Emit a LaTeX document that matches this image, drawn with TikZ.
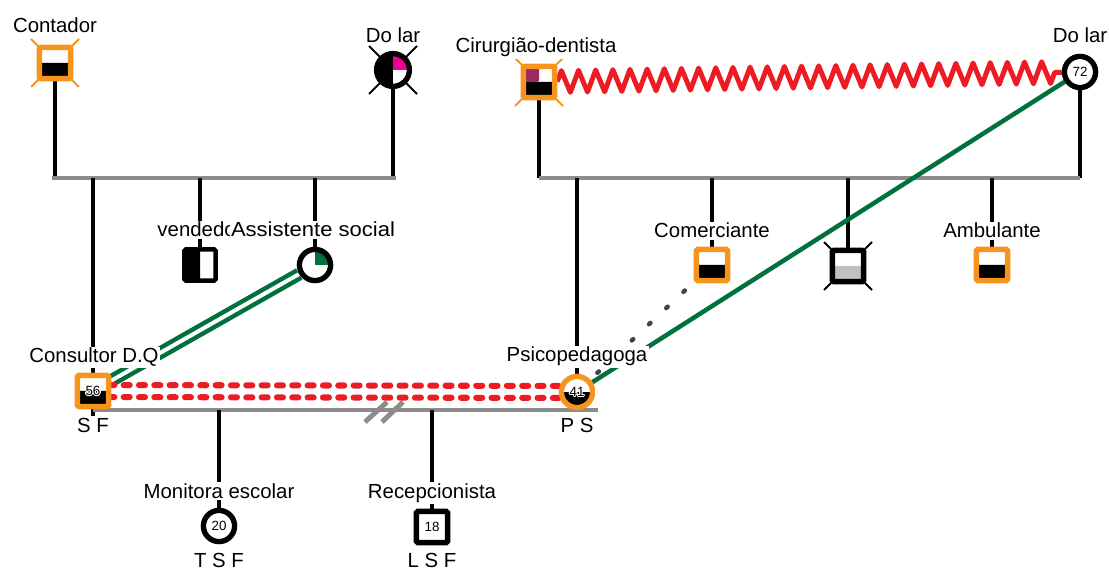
\documentclass[tikz,border=0pt]{standalone}
\usepackage{fontspec}
\setmainfont{Liberation Sans}
\usepackage{contour}
\contourlength{0.7pt}
\usetikzlibrary{decorations.pathmorphing}

\definecolor{gorange}{RGB}{247,148,29}
\definecolor{ggreen}{RGB}{0,112,60}
\definecolor{gred}{RGB}{237,28,36}
\definecolor{gmagenta}{RGB}{236,0,140}
\definecolor{gmaroon}{RGB}{155,42,95}
\definecolor{ggray}{RGB}{140,140,140}
\definecolor{glight}{RGB}{192,192,192}
\definecolor{gdots}{RGB}{68,68,68}

\pgfdeclarelayer{bg}
\pgfsetlayers{bg,main}

\tikzset{
  person/.style={fill=white, draw=black, line width=3.8pt, minimum size=0.78cm,
    inner sep=0pt, font=\fontsize{9.5}{10}\selectfont},
  male/.style={person, rectangle, rounded corners=1pt},
  female/.style={person, circle},
  lowhalf/.style={path picture={\fill[#1] (path picture bounding box.west)
    rectangle (path picture bounding box.south east);}},
  lefthalf/.style={path picture={\fill[#1] (path picture bounding box.south west)
    rectangle (path picture bounding box.north);}},
  nequad/.style={path picture={\fill[#1] (path picture bounding box.center)
    rectangle (path picture bounding box.north east);}},
  lbl/.style={anchor=base, fill=white, inner sep=1pt, font=\fontsize{14.5}{17}\selectfont},
  sub/.style={anchor=base, inner sep=0pt, font=\fontsize{14.5}{17}\selectfont},
  kid/.style={draw=black, line width=3.2pt},
  marr/.style={draw=ggray, line width=3.5pt},
  xl/.style={line width=1.4pt},
  zz/.style={draw=gred, line width=3.5pt, line join=round, decorate,
    decoration={zigzag, segment length=12.2pt, amplitude=7.8pt}},
  gline/.style={draw=ggreen, line width=3.2pt},
  gdouble/.style={draw=ggreen, line width=3.2pt, double=white, double distance=2.8pt},
  rdash/.style={draw=gred, line width=4.3pt, line cap=round, dash pattern=on 4.3pt off 6.6pt},
  dotl/.style={draw=gdots, line width=3.2pt, line cap=round,
    dash pattern=on 1.4pt off 15.4pt, dash phase=13.7pt, shorten >=0.9cm}
}

\begin{document}
\begin{tikzpicture}[x=0.025cm, y=-0.025cm]
  \useasboundingbox (0,0) rectangle (1109,569);

  \coordinate (lm) at (0,178);
  \coordinate (lm2) at (0,410);
  \coordinate (mend) at (598,410);

  \node[male, draw=gorange, lowhalf=black] (ctd) at (55,63) {};
  \node[female, minimum size=0.82cm, path picture={
      \fill[black] (path picture bounding box.south west) rectangle (path picture bounding box.north);
      \fill[gmagenta] (path picture bounding box.center) rectangle (path picture bounding box.north east);}]
    (dl1) at (393,70) {};
  \node[male, draw=gorange, path picture={
      \fill[black] (path picture bounding box.west) rectangle (path picture bounding box.south east);
      \fill[gmaroon] (path picture bounding box.north west) rectangle (path picture bounding box.center);}]
    (cir) at (539,82) {};
  \node[female] (dl2) at (1080,72) {72};

  \node[male, draw=gorange, lowhalf=black] (con) at (93,391) {\contour{white}{56}};
  \node[male, line width=3.2pt, lefthalf=black] (ven) at (200,265) {};
  \node[female, nequad=ggreen] (ass) at (315,265) {};
  \node[female, draw=gorange, lowhalf=black] (psi) at (577,392) {\contour{white}{41}};
  \node[male, draw=gorange, lowhalf=black] (com) at (712,265) {};
  \node[male, lowhalf=glight] (mid) at (848,266) {};
  \node[male, draw=gorange, lowhalf=black] (amb) at (992,265) {};
  \node[female] (mon) at (219,526) {20};
  \node[male] (rec) at (432,527) {18};

  \begin{pgfonlayer}{bg}
    \foreach \n/\c in {ctd/gorange, cir/gorange, dl1/black, mid/black} {
      \draw[xl, \c] ([shift={(-24,-24)}]\n.center) -- ([shift={(24,24)}]\n.center);
      \draw[xl, \c] ([shift={(24,-24)}]\n.center) -- ([shift={(-24,24)}]\n.center);
    }
    \draw[kid] (ctd) -- (ctd |- lm);
    \draw[kid] (dl1) -- (dl1 |- lm);
    \draw[kid] (cir) -- (cir |- lm);
    \draw[kid] (dl2) -- (dl2 |- lm);
    \draw[marr] ([xshift=-0.08cm]ctd |- lm) -- ([xshift=0.08cm]dl1 |- lm);
    \draw[marr] (cir |- lm) -- (dl2 |- lm);
    \foreach \n in {ven, ass, psi, com, mid, amb}
      \draw[kid] (\n |- lm) -- (\n);
    \draw[kid] (con |- lm) -- ([yshift=-0.16cm]con.south);
    \draw[zz] (cir) -- (dl2);
    \draw[gline] (dl2) -- (psi);
    \draw[gdouble] (ass) -- (con);
    \draw[dotl] (psi.center) -- (com.center);
    \draw[rdash] ([yshift=0.15cm]con.center) -- ([yshift=0.15cm]psi.center);
    \draw[rdash] ([yshift=-0.15cm]con.center) -- ([yshift=-0.15cm]psi.center);
    \draw[marr] (con |- lm2) -- (mend);
    \draw[marr] (365,422) -- (387,402);
    \draw[marr] (382,422) -- (403,402);
    \draw[kid] (mon |- lm2) -- (mon);
    \draw[kid] (rec |- lm2) -- (rec);
  \end{pgfonlayer}

  \node[lbl] (ctdl) at (55,33) {Contador};
  \node[lbl] (dl1l) at (393,43) {Do lar};
  \node[lbl] (cirl) at (536,53) {Cirurgião-dentista};
  \node[lbl] (dl2l) at (1080,43) {Do lar};
  \node[lbl] (venl) at (200,237) {vendedor};
  \node[lbl] (assl) at (313,237) {\scalebox{1.08}[1]{Assistente social}};
  \node[lbl] (coml) at (712,238) {Comerciante};
  \node[lbl] (ambl) at (992,238) {Ambulante};
  \node[lbl] (conl) at (94,363) {Consultor D.Q};
  \node[lbl] (psil) at (577,362) {Psicopedagoga};
  \node[lbl] (monl) at (219,498) {Monitora escolar};
  \node[lbl] (recl) at (432,498) {Recepcionista};
  \node[sub] (conb) at (93,433) {S F};
  \node[sub] (psib) at (577,433) {P S};
  \node[sub] (monb) at (219,567) {T S F};
  \node[sub] (recb) at (432,567) {L S F};
\end{tikzpicture}
\end{document}
